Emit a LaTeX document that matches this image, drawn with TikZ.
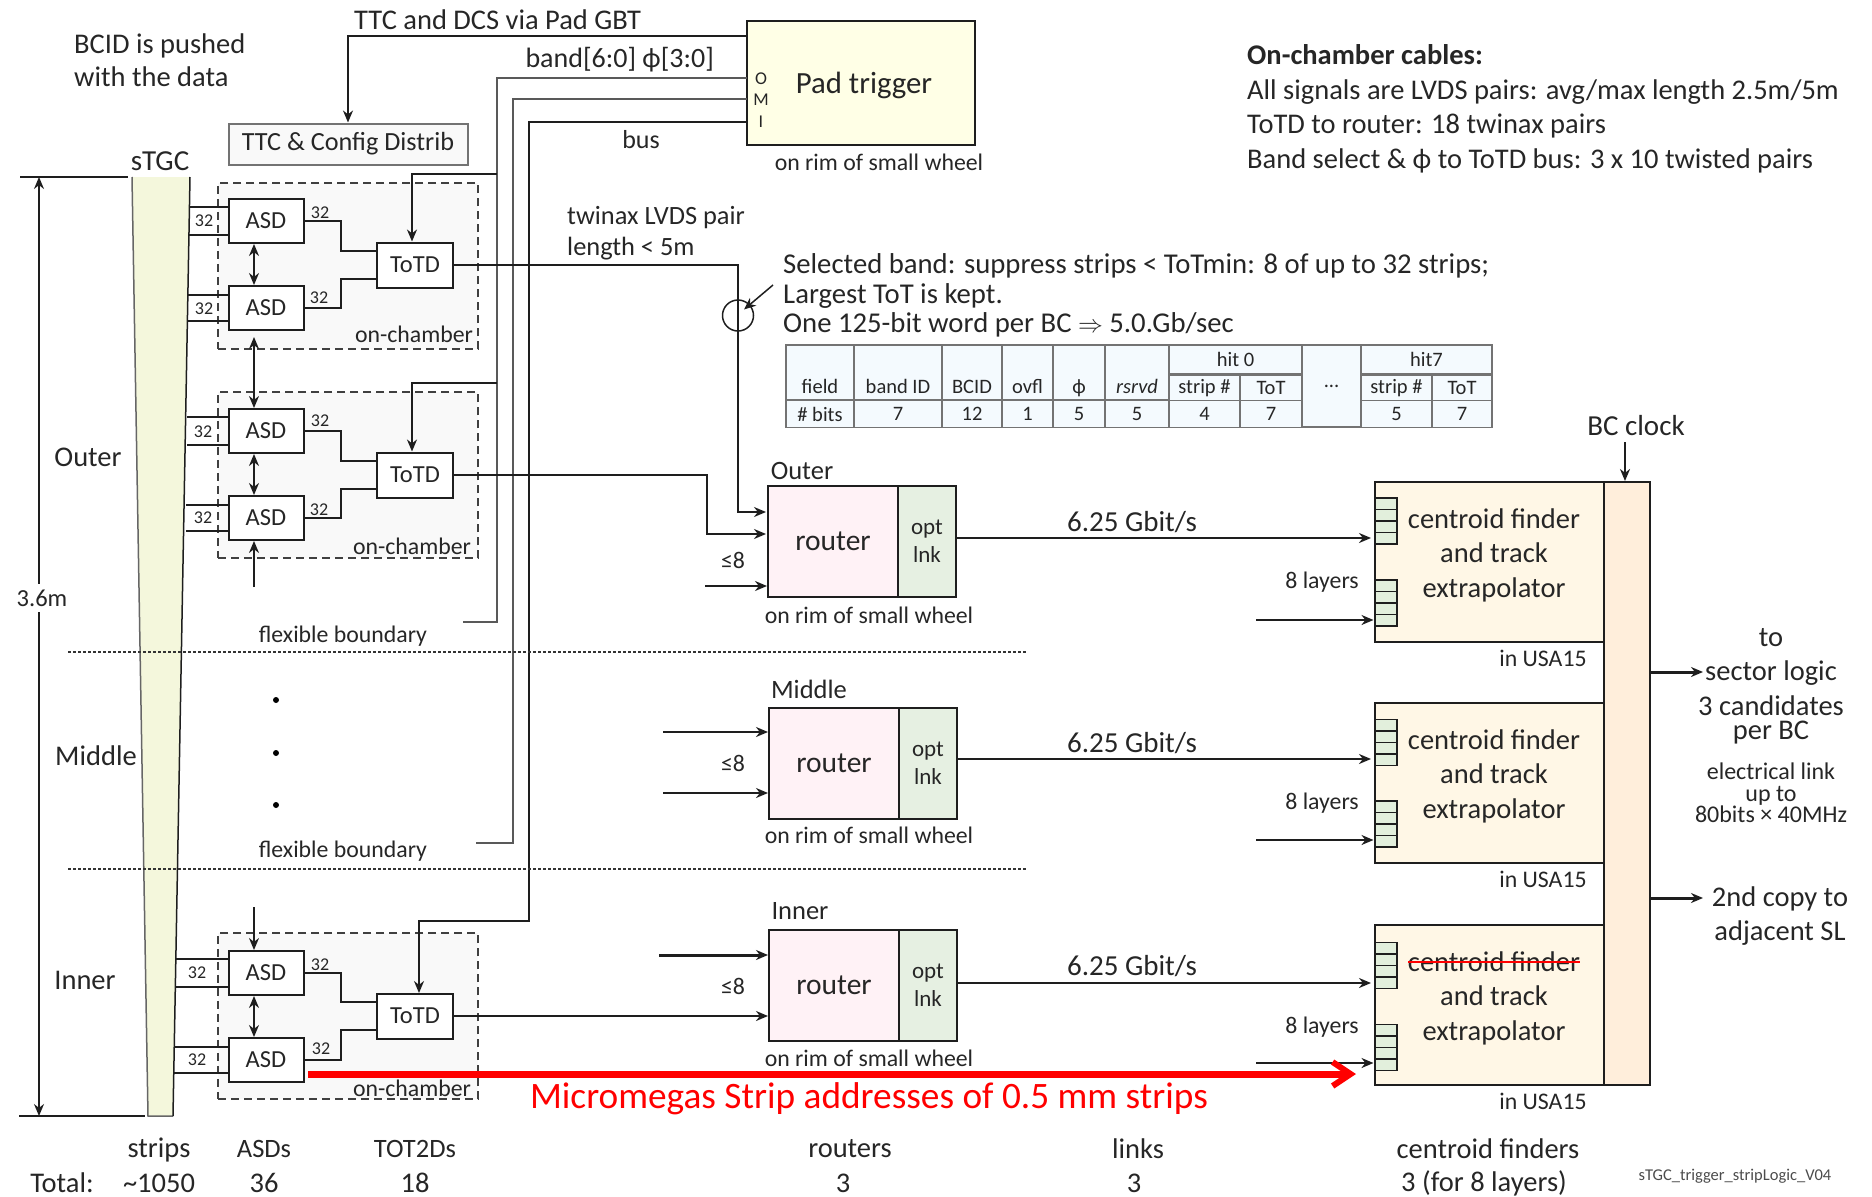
\documentclass[tikz,border=0pt]{standalone}
\usepackage{fontspec}
\setmainfont{Carlito}
\usepackage{tikz}
\usetikzlibrary{arrows.meta,calc}

\definecolor{ink}{HTML}{262626}
\definecolor{wirec}{HTML}{1E1E1E}
\definecolor{padfill}{HTML}{FFFFE6}
\definecolor{stgcfill}{HTML}{F4F7DC}
\definecolor{chamberfill}{HTML}{F9F9F9}
\definecolor{routerfill}{HTML}{FFF2F6}
\definecolor{optfill}{HTML}{E6F0E2}
\definecolor{cffill}{HTML}{FFF7E6}
\definecolor{barfill}{HTML}{FFEEDB}
\definecolor{stackfill}{HTML}{E2EFDC}
\definecolor{tablefill}{HTML}{F4FAFE}

\begin{document}
\begin{tikzpicture}[
  x=1pt,y=-1pt,
  >={Stealth[length=12pt,width=10pt]},
  every node/.style={font=\fontsize{28.5}{34.5}\selectfont,text=ink,inner sep=0pt},
  wire/.style={draw=wirec,line width=2pt},
  grayw/.style={draw=black!65,line width=2.5pt},
  midtxt/.style={font=\fontsize{23.8}{28}\selectfont},
  smalltxt/.style={font=\fontsize{18}{20}\selectfont},
  gbit/.style={font=\fontsize{29}{32}\selectfont},
  regtxt/.style={font=\fontsize{26.5}{30}\selectfont},
  asd/.style={draw=wirec,fill=white,line width=2pt,minimum width=75pt,minimum height=44pt,font=\fontsize{24.5}{26}\selectfont},
  totd/.style={draw=wirec,fill=white,line width=2pt,minimum width=76pt,minimum height=45pt,font=\fontsize{24.5}{26}\selectfont},
  chamber/.style={draw=black!75,line width=2.5pt,dash pattern=on 8pt off 5pt,fill=chamberfill,minimum width=260pt,minimum height=166pt},
  router/.style={draw=wirec,fill=routerfill,line width=2pt,minimum width=130pt,minimum height=111pt,font=\fontsize{29.5}{32}\selectfont},
  optlnk/.style={draw=wirec,fill=optfill,line width=2pt,minimum width=58pt,minimum height=111pt,align=center,font=\fontsize{23}{28}\selectfont},
  cfbox/.style={draw=wirec,fill=cffill,line width=2pt,minimum width=229pt,minimum height=160pt},
  stack/.style={draw=wirec,fill=stackfill,line width=1.5pt,minimum width=22pt,minimum height=46pt,
    path picture={
      \draw[wirec,line width=1.5pt] ($(path picture bounding box.north west)!0.25!(path picture bounding box.south west)$) -- ($(path picture bounding box.north east)!0.25!(path picture bounding box.south east)$);
      \draw[wirec,line width=1.5pt] ($(path picture bounding box.north west)!0.5!(path picture bounding box.south west)$) -- ($(path picture bounding box.north east)!0.5!(path picture bounding box.south east)$);
      \draw[wirec,line width=1.5pt] ($(path picture bounding box.north west)!0.75!(path picture bounding box.south west)$) -- ($(path picture bounding box.north east)!0.75!(path picture bounding box.south east)$);
    }},
  cell/.style={draw=black!55,fill=tablefill,line width=1.2pt,font=\fontsize{20.5}{22}\selectfont},
  headcell/.style={cell,minimum height=55pt,text height=43pt,text depth=1pt,inner ysep=5.5pt},
  dimline/.style={draw=wirec,line width=1.5pt},
  boundary/.style={draw=black!80,line width=2pt,dash pattern=on 2.5pt off 2.5pt},
]
\useasboundingbox (0,0) rectangle (1872,1197);

% sTGC wedge and its height
\fill[stgcfill] (132,177) -- (190,177) -- (173,1116) -- (148,1116) -- cycle;
\draw[black!60,line width=1.5pt] (132,177) -- (148,1116) -- (173,1116);
\draw[wirec,line width=1.5pt] (190,177) -- (173,1116);
\node[font=\fontsize{29}{32}\selectfont] (stgc) at (160,161) {sTGC};
\coordinate (dimt) at (39,177);
\coordinate (dimb) at (39,1116);
\draw[dimline] (20,177) -- (128,177);
\draw[dimline] (19,1116) -- (145,1116);
\draw[<->,dimline] (dimt) -- (dimb);
\node[fill=white,inner ysep=6pt,font=\fontsize{24.5}{28}\selectfont] (dimh) at (42,598) {3.6m};
\node (outerl) at (88,457) {Outer};
\node (middlel) at (96,756) {Middle};
\node (innerl) at (85,980) {Inner};

% Notes at the top
\node[anchor=west,align=left,font=\fontsize{28.5}{33.5}\selectfont] (bcid) at (74,60) {BCID is pushed\\with the data};
\node[anchor=west] (ttcl) at (354,20) {TTC and DCS via Pad GBT};
\node[anchor=east,font=\fontsize{28}{32}\selectfont] (bandl) at (714,60) {band[6:0] ϕ[3:0]};
\node[font=\fontsize{26}{30}\selectfont] (busl) at (641,140) {bus};
\node[anchor=west,align=left] (cablel) at (1247,109) {\textbf{On-chamber cables:}\\All signals are LVDS pairs: avg/max length 2.5m/5m\\ToTD to router: 18 twinax pairs\\Band select \& ϕ to ToTD bus: 3 x 10 twisted pairs};
\node[anchor=west,align=left,font=\fontsize{26.4}{31}\selectfont] (twinl) at (567,233) {twinax LVDS pair\\length < 5m};
\node[anchor=west,align=left,font=\fontsize{28.7}{29.3}\selectfont] (sell) at (783,295.5) {Selected band: suppress strips < ToTmin: 8 of up to 32 strips;\\Largest ToT is kept.\\One 125-bit word per BC $\Rightarrow$ 5.0.Gb/sec};

% Pad trigger and the TTC box
\node[draw=wirec,fill=padfill,line width=2pt,minimum width=228pt,minimum height=124pt] (pad) at (861,83) {};
\node[font=\fontsize{30.8}{34}\selectfont] (padl) at (864,85) {Pad trigger};
\node[smalltxt] (pado) at (761,79) {O};
\node[smalltxt] (padm) at (761,100) {M};
\node[smalltxt] (padi) at (761,122) {I};
\node[midtxt] (padr) at (879,162) {on rim of small wheel};
\node[draw=black!55,fill=chamberfill,line width=2pt,minimum width=239pt,minimum height=41pt,font=\fontsize{26.2}{28}\selectfont] (ttc) at (348,144) {TTC \& Config Distrib};
\coordinate (padb) at (747,78);
\coordinate (padc) at (747,99);
\coordinate (padd) at (747,122);
\coordinate (stubb) at (463,622);
\coordinate (stubc) at (476,843);
\coordinate (stubd) at (529,921);
\draw[->,wire] (pad.west |- 0,36) -| (ttc.north);

% On-chamber boxes
\node[chamber] (cha) at (348,266) {};
\node[chamber] (chb) at (348,475) {};
\node[chamber] (chc) at (348,1016) {};
\node[midtxt] (chal) at (414,334) {on-chamber};
\node[midtxt] (chbl) at (412,546) {on-chamber};
\node[midtxt] (chcl) at (412,1088) {on-chamber};

% Control lines from the pad trigger
\draw[grayw] (padb) -- (497,78) -- (497,622) -- (stubb);
\draw[grayw] (padc) -- (513,99) -- (513,843) -- (stubc);
\draw[wire] (padd) -- (529,122) -- (stubd) -- (419,921) -- (419,945);

% Outer chambers
\node[asd] (asa) at (266,221) {ASD};
\node[asd] (asb) at (266,308) {ASD};
\node[totd] (tda) at (415,265) {ToTD};
\node[asd] (asc) at (266,431) {ASD};
\node[asd] (asd) at (266,518) {ASD};
\node[totd] (tdb) at (415,475) {ToTD};
\draw[wire] (asa.west) ++(0,-14) -- ++(-39,0);
\draw[wire] (asa.west) ++(0,14) -- ++(-39,0);
\draw[wire] (asb.west) ++(0,-13) -- ++(-40,0);
\draw[wire] (asb.west) ++(0,13) -- ++(-40,0);
\draw[wire] (asc.west) ++(0,-14) -- ++(-41,0);
\draw[wire] (asc.west) ++(0,14) -- ++(-41,0);
\draw[wire] (asd.west) ++(0,-13) -- ++(-42,0);
\draw[wire] (asd.west) ++(0,13) -- ++(-42,0);
\node[smalltxt] (na) at (204,221) {32};
\node[smalltxt] (nb) at (204,309) {32};
\node[smalltxt] (nc) at (203,432) {32};
\node[smalltxt] (nd) at (203,518) {32};
\draw[wire] (asa.east) -- ++(36,0) |- ($(tda.west)+(0,-14)$);
\draw[wire] (asb.east) -- ++(36,0) |- ($(tda.west)+(0,14)$);
\draw[wire] (asc.east) -- ++(36,0) |- ($(tdb.west)+(0,-14)$);
\draw[wire] (asd.east) -- ++(36,0) |- ($(tdb.west)+(0,14)$);
\node[smalltxt] (oa) at (320,213) {32};
\node[smalltxt] (ob) at (319,298) {32};
\node[smalltxt] (oc) at (320,421) {32};
\node[smalltxt] (od) at (319,510) {32};
\draw[<->,dimline] ($(asa.south)+(-12,0)$) -- ($(asb.north)+(-12,0)$);
\draw[<->,dimline] ($(asb.south)+(-12,6)$) -- ($(asc.north)+(-12,0)$);
\draw[<->,dimline] ($(asc.south)+(-12,0)$) -- ($(asd.north)+(-12,0)$);
\coordinate (upa) at (254,587);
\draw[->,dimline] (upa) -- ($(asd.south)+(-12,0)$);
\coordinate (braa) at (497,174);
\coordinate (brab) at (497,383);
\draw[->,wire] (braa) -- (412,174) -- ($(tda.north)+(-3,0)$);
\draw[->,wire] (brab) -- (412,383) -- ($(tdb.north)+(-3,0)$);

% Inner chamber
\node[asd] (ase) at (266,973) {ASD};
\node[asd] (asf) at (266,1060) {ASD};
\node[totd] (tdc) at (415,1016) {ToTD};
\draw[wire] (ase.west) ++(0,-14) -- ++(-53,0);
\draw[wire] (ase.west) ++(0,14) -- ++(-53,0);
\draw[wire] (asf.west) ++(0,-13) -- ++(-54,0);
\draw[wire] (asf.west) ++(0,13) -- ++(-54,0);
\node[smalltxt] (ne) at (197,973) {32};
\node[smalltxt] (nf) at (197,1060) {32};
\draw[wire] (ase.east) -- ++(36,0) |- ($(tdc.west)+(0,-14)$);
\draw[wire] (asf.east) -- ++(36,0) |- ($(tdc.west)+(0,14)$);
\node[smalltxt] (oe) at (320,965) {32};
\node[smalltxt] (of) at (321,1049) {32};
\draw[<->,dimline] ($(ase.south)+(-12,0)$) -- ($(asf.north)+(-12,0)$);
\coordinate (dna) at (254,907);
\draw[->,dimline] (dna) -- ($(ase.north)+(-12,0)$);
\draw[->,wire] (419,945) -- (419,993);

% Flexible boundaries and dots
\draw[boundary] (68,652) -- (1027,652);
\draw[boundary] (68,869) -- (1027,869);
\node[midtxt] (flexa) at (343,636) {flexible boundary};
\node[midtxt] (flexb) at (343,851) {flexible boundary};
\node[circle,fill=black,minimum size=6pt] (dota) at (276,700) {};
\node[circle,fill=black,minimum size=6pt] (dotb) at (276,753) {};
\node[circle,fill=black,minimum size=6pt] (dotc) at (276,805) {};

% Bit table
\node[headcell,minimum width=68pt] (tfa) at (820,372.5) {field};
\node[headcell,minimum width=88pt] (tfb) at (898,372.5) {band ID};
\node[headcell,minimum width=60pt] (tfc) at (972,372.5) {BCID};
\node[headcell,minimum width=51pt] (tfd) at (1027.5,372.5) {ovfl};
\node[headcell,minimum width=52pt] (tfe) at (1079,372.5) {ϕ};
\node[headcell,minimum width=64pt] (tff) at (1137,372.5) {\textit{rsrvd}};
\node[cell,minimum width=133pt,minimum height=29pt] (tha) at (1235.5,359.5) {hit 0};
\node[cell,minimum width=71pt,minimum height=26pt] (tga) at (1204.5,388) {strip \#};
\node[cell,minimum width=62pt,minimum height=26pt] (tgb) at (1271,388) {ToT};
\node[cell,minimum width=59pt,minimum height=82pt] (tdots) at (1331.5,386) {...};
\node[cell,minimum width=131pt,minimum height=29pt] (thb) at (1426.5,359.5) {hit7};
\node[cell,minimum width=71pt,minimum height=26pt] (tgc) at (1396.5,388) {strip \#};
\node[cell,minimum width=60pt,minimum height=26pt] (tgd) at (1462,388) {ToT};
\node[cell,minimum width=68pt,minimum height=27pt] (tva) at (820,414) {\# bits};
\node[cell,minimum width=88pt,minimum height=27pt] (tvb) at (898,414) {7};
\node[cell,minimum width=60pt,minimum height=27pt] (tvc) at (972,414) {12};
\node[cell,minimum width=51pt,minimum height=27pt] (tvd) at (1027.5,414) {1};
\node[cell,minimum width=52pt,minimum height=27pt] (tve) at (1079,414) {5};
\node[cell,minimum width=64pt,minimum height=27pt] (tvf) at (1137,414) {5};
\node[cell,minimum width=71pt,minimum height=27pt] (tvg) at (1204.5,414) {4};
\node[cell,minimum width=62pt,minimum height=27pt] (tvh) at (1271,414) {7};
\node[cell,minimum width=71pt,minimum height=27pt] (tvi) at (1396.5,414) {5};
\node[cell,minimum width=60pt,minimum height=27pt] (tvj) at (1462,414) {7};

% Routers
\node[router] (rta) at (833,541.5) {router};
\node[optlnk] (opa) at (927,541.5) {opt\\lnk};
\node[router] (rtb) at (834,763) {router};
\node[optlnk] (opb) at (928,763) {opt\\lnk};
\node[router] (rtc) at (834,985.5) {router};
\node[optlnk] (opc) at (928,985.5) {opt\\lnk};
\node[regtxt] (rla) at (802,471) {Outer};
\node[regtxt] (rlb) at (809,689) {Middle};
\node[regtxt] (rlc) at (800,911) {Inner};
\node[midtxt] (rra) at (869,615) {on rim of small wheel};
\node[midtxt] (rrb) at (869,835) {on rim of small wheel};
\node[midtxt] (rrc) at (869,1058) {on rim of small wheel};

% Inputs of the routers
\node[circle,draw=wirec,line width=1.5pt,minimum size=31pt] (wcirc) at (738,315.5) {};
\coordinate (ptr) at (773,285);
\draw[->,dimline] (ptr) -- ($(wcirc.center)+(6,-6)$);
\coordinate (ina) at (766,512);
\coordinate (inb) at (766,534);
\coordinate (inc) at (705,586);
\coordinate (ind) at (663,732);
\coordinate (ine) at (663,793);
\coordinate (inf) at (659,955);
\draw[->,wire] (tda.east) -| (738,512) -- (ina);
\draw[->,wire] (tdb.east) -| (707,534) -- (inb);
\draw[->,wire] (inc) -- (inc -| rta.west);
\draw[->,wire] (ind) -- (ind -| rtb.west);
\draw[->,wire] (ine) -- (ine -| rtb.west);
\draw[->,line width=3pt,draw=wirec] (inf) -- (inf -| rtc.west);
\draw[->,wire] (tdc.east) -- (tdc.east -| rtc.west);
\node[midtxt] (lea) at (733,560) {≤8};
\node[midtxt] (leb) at (733,763) {≤8};
\node[midtxt] (lec) at (733,986) {≤8};

% Centroid finders
\node[cfbox] (cfa) at (1489,562) {};
\node[cfbox] (cfb) at (1489,782.5) {};
\node[cfbox] (cfc) at (1489,1005) {};
\node[draw=wirec,fill=barfill,line width=2pt,minimum width=46pt,minimum height=603pt] (bar) at (1626.5,783.5) {};
\node[align=center] (cta) at (1494,555) {centroid finder\\and track\\extrapolator};
\node[align=center] (ctb) at (1494,776) {centroid finder\\and track\\extrapolator};
\node (ctc) at (1494,962) {centroid finder};
\node[align=center] (ctd) at (1494,1015.5) {and track\\extrapolator};
\draw[red,line width=2pt] (ctc.west) -- (ctc.east);
\node[stack] (sta) at (1386,521) {};
\node[stack] (stb) at (1386,603) {};
\node[stack] (stc) at (1386,742.5) {};
\node[stack] (std) at (1386,824) {};
\node[stack] (ste) at (1386,965.5) {};
\node[stack] (stf) at (1386,1047.5) {};
\coordinate (lka) at (1371,538);
\coordinate (lkb) at (1371,759);
\coordinate (lkc) at (1371,983);
\coordinate (lla) at (1256,620);
\coordinate (llb) at (1256,840);
\coordinate (llc) at (1256,1063);
\draw[->,wire] (opa.east |- lka) -- (lka);
\draw[->,wire] (opb.east |- lkb) -- (lkb);
\draw[->,wire] (opc.east |- lkc) -- (lkc);
\draw[->,wire] (lla) -- (lla -| cfa.west);
\draw[->,wire] (llb) -- (llb -| cfb.west);
\draw[->,wire] (llc) -- (llc -| cfc.west);
\node[gbit] (rga) at (1132,522) {6.25 Gbit/s};
\node[gbit] (rgb) at (1132,743) {6.25 Gbit/s};
\node[gbit] (rgc) at (1132,966) {6.25 Gbit/s};
\node[midtxt] (lya) at (1322,582) {8 layers};
\node[midtxt] (lyb) at (1322,803) {8 layers};
\node[midtxt] (lyc) at (1322,1027) {8 layers};
\node[midtxt] (usa) at (1543,658) {in USA15};
\node[midtxt] (usb) at (1543,879) {in USA15};
\node[midtxt] (usc) at (1543,1101) {in USA15};

% Clock and outputs
\node[gbit] (bcl) at (1636,426) {BC clock};
\coordinate (bcin) at (1625,442);
\draw[->,wire] (bcin) -- (bcin |- bar.north);
\coordinate (outa) at (1703,672);
\coordinate (outb) at (1703,898);
\draw[->,line width=3pt,draw=wirec] (bar.east |- outa) -- (outa);
\draw[->,line width=3pt,draw=wirec] (bar.east |- outb) -- (outb);
\node[align=center] (slto) at (1771,672) {to\\sector logic\\3 candidates};
\node (slper) at (1771,733) {per BC};
\node[align=center,font=\fontsize{24}{21.5}\selectfont] (slel) at (1771,793) {electrical link\\up to\\80bits × 40MHz};
\node[align=center] (slsec) at (1780,916) {2nd copy to\\adjacent SL};

% Micromegas addition
\coordinate (mma) at (308,1074);
\coordinate (mmb) at (1356,1074);
\draw[-{Straight Barb[length=18pt,width=24pt,line width=6pt]},red,line width=7pt] (mma) -- (mmb);
\node[text=red,font=\fontsize{37.3}{40}\selectfont] (mmt) at (869,1099) {Micromegas Strip addresses of 0.5 mm strips};

% Totals at the bottom
\node (tsa) at (159,1150) {strips};
\node[regtxt] (tsb) at (264,1149) {ASDs};
\node[regtxt] (tsc) at (415,1149) {TOT2Ds};
\node (tsd) at (850,1149) {routers};
\node (tse) at (1138,1149) {links};
\node (tsf) at (1488,1149) {centroid finders};
\node (tva1) at (62,1183) {Total:};
\node (tvb1) at (159,1183) {\textasciitilde1050};
\node (tvc1) at (264,1183) {36};
\node (tvd1) at (415,1183) {18};
\node (tve1) at (843,1183) {3};
\node (tvf1) at (1134,1183) {3};
\node (tvg1) at (1484,1183) {3 (for 8 layers)};
\node[text=black!70,font=\fontsize{16.5}{18}\selectfont] (tag) at (1735,1176) {sTGC\_trigger\_stripLogic\_V04};

\end{tikzpicture}
\end{document}
